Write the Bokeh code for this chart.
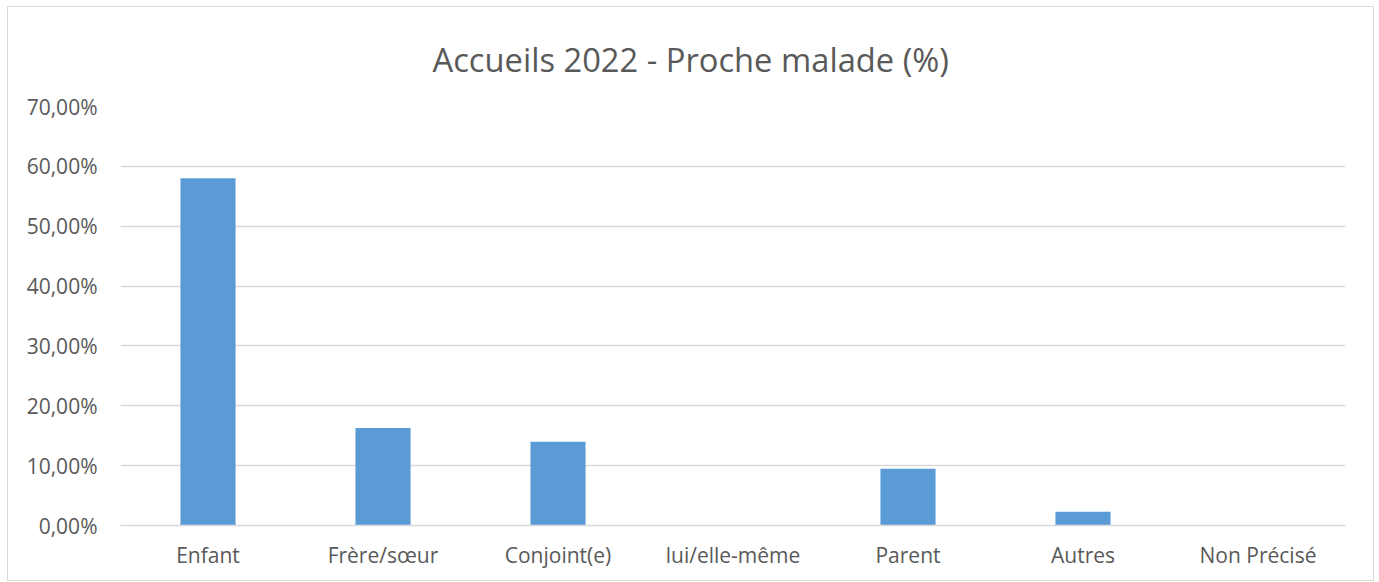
from bokeh.plotting import figure
from bokeh.models import FactorRange, Range1d, FixedTicker, CustomJSTickFormatter, ColumnDataSource
from bokeh.embed import file_html
from bokeh.resources import INLINE

categories = ["Enfant", "Frère/sœur", "Conjoint(e)", "lui/elle-même", "Parent", "Autres", "Non Précisé"]
values = [58.0, 16.3, 14.0, 0.0, 9.5, 2.3, 0.0]
y_ticks = [0, 10, 20, 30, 40, 50, 60, 70]
title_text = "Accueils 2022 - Proche malade (%)"

TEXT = "#595959"
GRID = "#d9d9d9"
BAR = "#5b9bd5"
FONT = "Open Sans"

src = ColumnDataSource(data=dict(cat=categories, val=values))

p = figure(
    x_range=FactorRange(*categories, range_padding=0),
    y_range=Range1d(0, 70),
    width=1367, height=575,
    output_backend="svg", toolbar_location=None,
    min_border_left=112, min_border_right=30, min_border_top=99, min_border_bottom=57,
    title=title_text,
)
p.styles = {"border": "1px solid #d9d9d9", "box-sizing": "border-box",
            "margin-left": "7px", "margin-top": "6px"}

p.vbar(x="cat", top="val", width=0.315, source=src, color=BAR, line_color=None)

p.title.text_font = FONT
p.title.text_font_size = "32.7px"
p.title.text_font_style = "normal"
p.title.text_color = TEXT
p.title.align = "left"
p.title.offset = 312
p.title.standoff = 50
p.title.text_line_height = 0.75

p.outline_line_color = None
p.background_fill_color = "white"
p.border_fill_color = "white"

p.xgrid.grid_line_color = None
p.ygrid.grid_line_color = GRID
p.ygrid.grid_line_width = 1.5

p.yaxis.ticker = FixedTicker(ticks=y_ticks)
p.yaxis.formatter = CustomJSTickFormatter(code="return tick.toFixed(2).replace('.', ',') + '%';")
p.yaxis.axis_line_color = None
p.yaxis.major_tick_line_color = None
p.yaxis.minor_tick_line_color = None
p.yaxis.major_label_standoff = 17
p.yaxis.major_label_text_font = FONT
p.yaxis.major_label_text_font_size = "21px"
p.yaxis.major_label_text_color = TEXT

p.xaxis.axis_line_color = GRID
p.xaxis.axis_line_width = 1.5
p.xaxis.major_tick_line_color = None
p.xaxis.minor_tick_line_color = None
p.xaxis.major_label_standoff = 9
p.xaxis.major_label_text_font = FONT
p.xaxis.major_label_text_font_size = "21px"
p.xaxis.major_label_text_color = TEXT

open("out.html", "w").write(file_html(p, INLINE))
